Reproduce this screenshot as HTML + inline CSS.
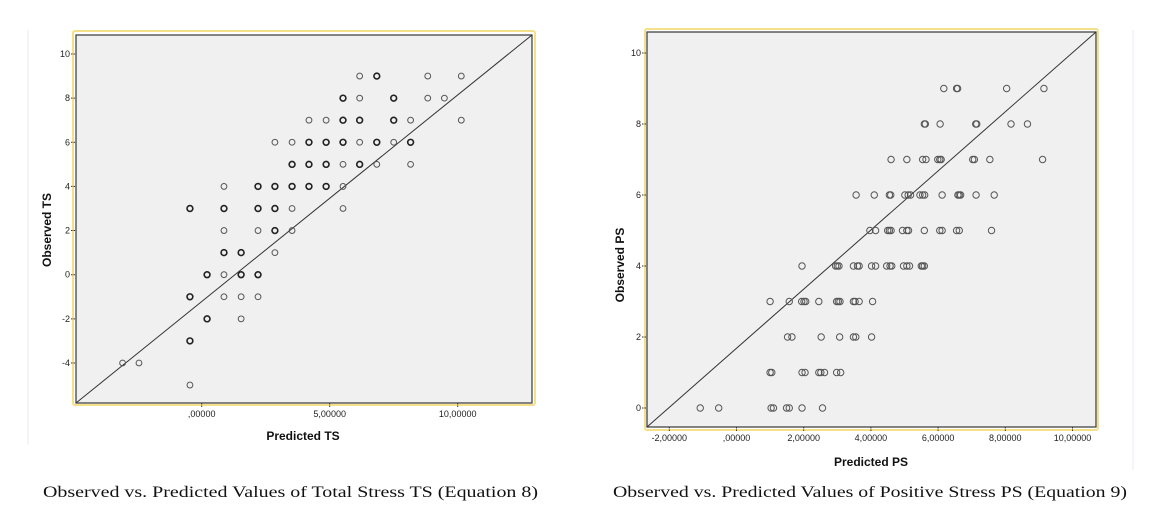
<!DOCTYPE html>
<html><head><meta charset="utf-8"><style>
html,body{margin:0;padding:0;background:#fff;}
svg{display:block;font-family:"Liberation Sans",sans-serif;}
</style></head><body>
<svg id="root" width="1161" height="529" viewBox="0 0 1161 529"></svg>
<script>
// Left chart data (Total Stress)
const tsPredicted = [6.17,6.84,8.83,10.14, 5.52,6.17,7.5,8.83,9.48, 4.19,4.86,5.52,6.17,7.5,8.16,10.14, 2.86,3.53,4.19,4.86,5.52,6.17,6.84,7.5,8.16, 3.53,4.19,4.86,5.52,6.17,6.84,8.16, 0.87,2.2,2.86,3.53,4.19,4.86,5.52, -0.46,0.87,2.2,2.86,3.53,5.52, 0.87,2.2,2.86,3.53, 0.87,1.54,2.86, 0.21,0.87,1.54,2.2, -0.46,0.87,1.54,2.2, 0.21,1.54, -0.46, -3.09,-2.45, -0.46];
const tsObserved = [9,9,9,9, 8,8,8,8,8, 7,7,7,7,7,7,7, 6,6,6,6,6,6,6,6,6, 5,5,5,5,5,5,5, 4,4,4,4,4,4,4, 3,3,3,3,3,3, 2,2,2,2, 1,1,1, 0,0,0,0, -1,-1,-1,-1, -2,-2, -3, -4,-4, -5];
const tsCount = [1,2,1,1, 2,1,2,1,1, 1,1,2,2,2,1,1, 1,1,2,2,2,1,2,1,2, 2,2,2,1,2,1,1, 1,2,2,2,2,2,1, 2,2,2,2,1,1, 1,1,2,1, 2,2,1, 2,1,2,2, 2,1,1,1, 2,1, 2, 1,1, 1];
const tsXTicks = [0,5,10];
const tsXTickLabels = [",00000","5,00000","10,00000"];
const tsYTicks = [-4,-2,0,2,4,6,8,10];

// Right chart data (Positive Stress)
const psPredicted = [6.17,6.55,6.58,8.04,9.15, 5.59,5.62,6.06,7.12,7.15,8.17,8.66, 4.6,5.07,5.54,5.64,5.99,6.05,6.09,7.03,7.08,7.54,9.11, 3.56,4.1,4.55,4.59,5.01,5.11,5.18,5.46,5.54,5.6,6.12,6.59,6.63,6.67,7.13,7.67, 3.97,4.14,4.5,4.55,4.6,4.94,5.07,5.12,5.59,6.05,6.12,6.55,6.63,7.59, 1.95,2.95,3.0,3.05,3.48,3.6,3.65,4.02,4.14,4.47,4.57,4.62,4.97,5.07,5.15,5.5,5.54,5.59, 1.0,1.57,1.94,2.01,2.06,2.45,2.98,3.03,3.08,3.48,3.53,3.65,4.05, 1.52,1.65,2.52,3.07,3.48,3.55,4.02, 1.0,1.05,1.95,2.04,2.45,2.51,2.62,2.98,3.1, -1.08,-0.53,1.03,1.1,1.49,1.57,1.95,2.56];
const psObserved = [9,9,9,9,9, 8,8,8,8,8,8,8, 7,7,7,7,7,7,7,7,7,7,7, 6,6,6,6,6,6,6,6,6,6,6,6,6,6,6,6, 5,5,5,5,5,5,5,5,5,5,5,5,5,5, 4,4,4,4,4,4,4,4,4,4,4,4,4,4,4,4,4,4, 3,3,3,3,3,3,3,3,3,3,3,3,3, 2,2,2,2,2,2,2, 1,1,1,1,1,1,1,1,1, 0,0,0,0,0,0,0,0];
const psXTicks = [-2,0,2,4,6,8,10];
const psXTickLabels = ["-2,00000",",00000","2,00000","4,00000","6,00000","8,00000","10,00000"];
const psYTicks = [0,2,4,6,8,10];

const NS = "http://www.w3.org/2000/svg";
const root = document.getElementById('root');
function mk(tag, attrs, parent){
  const e = document.createElementNS(NS, tag);
  for (const k in attrs) e.setAttribute(k, attrs[k]);
  (parent||root).appendChild(e);
  return e;
}

function drawChart(cfg){
  const g = mk('g', {});
  
  
  const sx = v => cfg.x0px + (v - cfg.x0v) * cfg.xs;
  const sy = v => cfg.y0px - (v - cfg.y0v) * cfg.ys;
  // yellow frame
  const fr = mk('rect', {x:cfg.fx, y:cfg.fy, width:cfg.fw, height:cfg.fh, fill:'none', stroke:'#f5e08a', 'stroke-width':2, rx:2}, g);
  
  
  // plot area
  const pa = mk('rect', {x:cfg.L, y:cfg.T, width:cfg.R-cfg.L, height:cfg.B-cfg.T, fill:'#f0f0f0', stroke:'#444', 'stroke-width':1.3}, g);
  
  
  // diagonal reference line
  const dl = mk('line', {x1:cfg.L, y1:cfg.B, x2:cfg.R, y2:cfg.T, stroke:'#333', 'stroke-width':1}, g);
  
  
  // y ticks
  cfg.yTicks.forEach(v => {
    const y = sy(v);
    const t = mk('line', {x1:cfg.L-5, y1:y, x2:cfg.L, y2:y, stroke:'#333', 'stroke-width':1, 'stroke-dasharray':'1.5,1'}, g);
    
    
    const tx = mk('text', {x:cfg.L-6, y:y+3, 'font-size':9, 'text-anchor':'end', fill:'#222'}, g);
    tx.textContent = String(v);
    
    
  });
  // x ticks
  cfg.xTicks.forEach((v, i) => {
    const x = sx(v);
    const t = mk('line', {x1:x, y1:cfg.B, x2:x, y2:cfg.B+4, stroke:'#333', 'stroke-width':1, 'stroke-dasharray':'1.5,1'}, g);
    
    
    const tx = mk('text', {x:x, y:cfg.B+14, 'font-size':9, 'text-anchor':'middle', fill:'#222'}, g);
    tx.textContent = cfg.xLabels[i];
    
    
  });
  // points
  cfg.px.forEach((v, i) => {
    const bold = cfg.cnt ? cfg.cnt[i] > 1 : false;
    const c = mk('circle', {cx:sx(v), cy:sy(cfg.py[i]), r:cfg.r, fill:'none', stroke: bold ? '#222' : '#555', 'stroke-width': bold ? 1.6 : 1}, g);
    
    
  });
  // axis titles
  const xt = mk('text', {x:cfg.xtX, y:cfg.xtY, 'font-size':12, 'font-weight':'bold', 'text-anchor':'middle', fill:'#111'}, g);
  xt.textContent = cfg.xTitle;
  
  
  const yt = mk('text', {x:0, y:0, 'font-size':12, 'font-weight':'bold', 'text-anchor':'middle', fill:'#111', transform:`translate(${cfg.ytX},${cfg.ytY}) rotate(-90)`}, g);
  yt.textContent = cfg.yTitle;
  
  
  // caption
  const cp = mk('text', {x:cfg.capX, y:497, 'font-size':16, 'font-family':'"Liberation Serif",serif', fill:'#111', textLength:cfg.capW, lengthAdjust:'spacingAndGlyphs'}, g);
  cp.textContent = cfg.caption;
  
  
}

// faint side lines
const s1 = mk('line', {x1:28, y1:30, x2:28, y2:445, stroke:'#e4eef6', 'stroke-width':1});


const s2 = mk('line', {x1:1133, y1:30, x2:1133, y2:470, stroke:'#e4eef6', 'stroke-width':1});



drawChart({name:'total-stress-chart', fx:73, fy:31, fw:462, fh:374, L:76, T:35, R:532, B:403,
  x0px:201.7, x0v:0, xs:25.6, y0px:274.7, y0v:0, ys:22.07,
  yTicks:tsYTicks, xTicks:tsXTicks, xLabels:tsXTickLabels,
  px:tsPredicted, py:tsObserved, cnt:tsCount, r:2.9,
  xTitle:'Predicted TS', xtX:303, xtY:440, yTitle:'Observed TS', ytX:51, ytY:230,
  caption:'Observed vs. Predicted Values of Total Stress TS (Equation 8)', capX:43, capW:495});

drawChart({name:'positive-stress-chart', fx:645, fy:29, fw:453, fh:401, L:647, T:32, R:1096, B:427,
  x0px:736.5, x0v:0, xs:33.6, y0px:408, y0v:0, ys:35.5,
  yTicks:psYTicks, xTicks:psXTicks, xLabels:psXTickLabels,
  px:psPredicted, py:psObserved, cnt:null, r:3.2,
  xTitle:'Predicted PS', xtX:871, xtY:466, yTitle:'Observed PS', ytX:624, ytY:265,
  caption:'Observed vs. Predicted Values of Positive Stress PS (Equation 9)', capX:613, capW:514});
</script>
</body></html>
